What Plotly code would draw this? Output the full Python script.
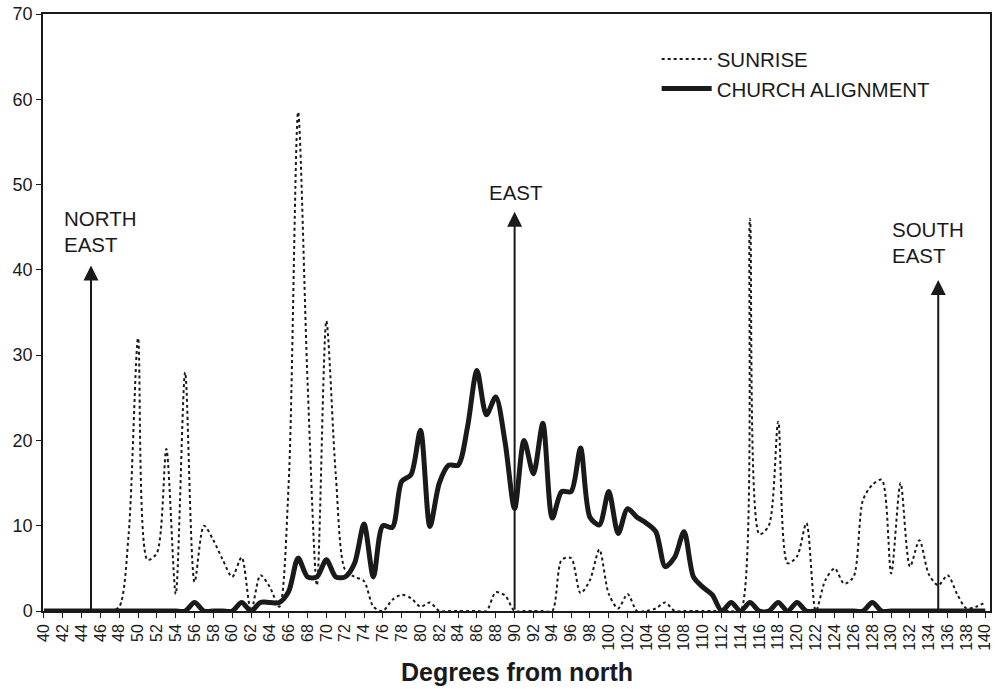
import plotly.graph_objects as go

degrees = list(range(40, 141))

sunrise = [
    0, 0, 0, 0, 0, 0, 0, 0, 0.5, 9,            # 40-49
    32, 6, 6.8, 19, 2, 28, 3.4, 10, 8.3, 6,    # 50-59
    4, 6.3, 0, 4.2, 2.8, 0.5, 15, 58.5, 27, 3, # 60-69
    34, 16, 4.8, 4, 3.5, 0.5, 0, 1.3, 1.9, 1.5,# 70-79
    0.5, 1, 0, 0, 0, 0, 0, 0, 2.2, 1.8,        # 80-89
    0, 0, 0, 0, 0, 6, 6.2, 2.1, 3.6, 7.2,      # 90-99
    2, 0.3, 2, 0, 0, 0.3, 1, 0, 0, 0,          # 100-109
    0, 0, 0, 0, 0, 46, 9, 10, 22.2, 5.6,       # 110-119
    6.4, 10.3, 0, 3.6, 5, 3.2, 4, 13, 14.8, 15.4,  # 120-129
    4.4, 15, 5.2, 8.3, 4.3, 3, 4.2, 2, 0.3, 0.5, 1,  # 130-140
]

church = [
    0, 0, 0, 0, 0, 0, 0, 0, 0, 0,              # 40-49
    0, 0, 0, 0, 0, 0, 1, 0, 0, 0,              # 50-59
    0, 1, 0, 1, 1, 1, 2.3, 6.2, 4, 4,          # 60-69
    6, 4, 4, 5.6, 10.2, 4, 10, 9.8, 15.2, 16,  # 70-79
    21.2, 9.9, 15, 17.1, 17.1, 21.6, 28.2, 23, 25.1, 19.7,  # 80-89
    12, 20, 16.1, 22, 10.9, 14, 14, 19.1, 11, 10.1,          # 90-99
    14, 9.1, 12, 11, 10.3, 9.3, 5.2, 6.3, 9.3, 4,            # 100-109
    2.8, 1.9, 0, 1, 0, 1, 0, 0, 1, 0,          # 110-119
    1, 0, 0, 0, 0, 0, 0, 0, 1, 0,              # 120-129
    0, 0, 0, 0, 0, 0, 0, 0, 0, 0, 0,           # 130-140
]

direction_labels = [["NORTH", "EAST"], ["EAST"], ["SOUTH", "EAST"]]
direction_degrees = [45, 90, 135]
arrow_tops = [40.5, 46.8, 38.8]

FONT = "Liberation Sans, Arial, sans-serif"
INK = "#1a1a1a"

fig = go.Figure()
fig.add_trace(go.Scatter(
    x=degrees, y=sunrise, mode="lines", name="SUNRISE", legendgroup="a",
    line=dict(color=INK, width=2, dash="dot", shape="spline", smoothing=0.8),
    showlegend=True,
))
fig.add_trace(go.Scatter(
    x=degrees, y=church, mode="lines", name="CHURCH ALIGNMENT", legendgroup="b",
    line=dict(color=INK, width=5, shape="spline", smoothing=0.8),
    showlegend=True,
))

# direction arrows
for deg, top in zip(direction_degrees, arrow_tops):
    fig.add_annotation(
        x=deg, y=top, ax=deg, ay=0, xref="x", yref="y", axref="x", ayref="y",
        text="", showarrow=True, arrowhead=2, arrowsize=1.5, arrowwidth=2,
        arrowcolor=INK, standoff=0, startstandoff=0,
    )

# direction labels
label_pos = [(41.9, [46.0, 43.0]), (90.1, [49.1]), (129.9, [44.7, 41.7])]
for (lx, ys), lines, deg in zip(label_pos, direction_labels, direction_degrees):
    for txt, ly in zip(lines, ys):
        fig.add_annotation(
            x=lx, y=ly, xref="x", yref="y",
            text=txt, showarrow=False,
            xanchor="left" if deg != 90 else "center", yanchor="middle",
            font=dict(family=FONT, size=20.5, color=INK),
        )

# axis title
fig.add_annotation(
    x=0.5, y=-0.102, xref="paper", yref="paper",
    text="<b>Degrees from north</b>", showarrow=False,
    xanchor="center", yanchor="middle",
    font=dict(family=FONT, size=25, color=INK),
)

fig.update_layout(
    width=995, height=689,
    margin=dict(l=43, r=5, t=14, b=78),
    paper_bgcolor="white", plot_bgcolor="white",
    font=dict(family=FONT, color=INK),
    showlegend=True,
    legend=dict(
        x=0.648, y=0.958, xanchor="left", yanchor="top",
        bgcolor="rgba(0,0,0,0)", font=dict(size=20.5, color=INK),
        itemwidth=50, traceorder="grouped", tracegroupgap=0,
    ),
    xaxis=dict(
        range=[39.9, 140.5], tick0=40, dtick=2, tickangle=-90,
        showgrid=False, zeroline=False, automargin=False,
        ticklabeloverflow="allow",
        showline=True, linecolor=INK, linewidth=1.5, mirror=True,
        ticks="outside", ticklen=5, tickcolor=INK,
        tickfont=dict(family=FONT, size=16, color=INK),
    ),
    yaxis=dict(
        range=[0, 70], dtick=10, showgrid=False, zeroline=False,
        automargin=False, ticklabeloverflow="allow",
        showline=True, linecolor=INK, linewidth=1.5, mirror=True,
        ticks="outside", ticklen=5, tickcolor=INK,
        tickfont=dict(family=FONT, size=18, color=INK),
    ),
)

fig.write_html(
    "out.html",
    config={"displayModeBar": False},
    post_script="document.body.style.margin='0';",
)
